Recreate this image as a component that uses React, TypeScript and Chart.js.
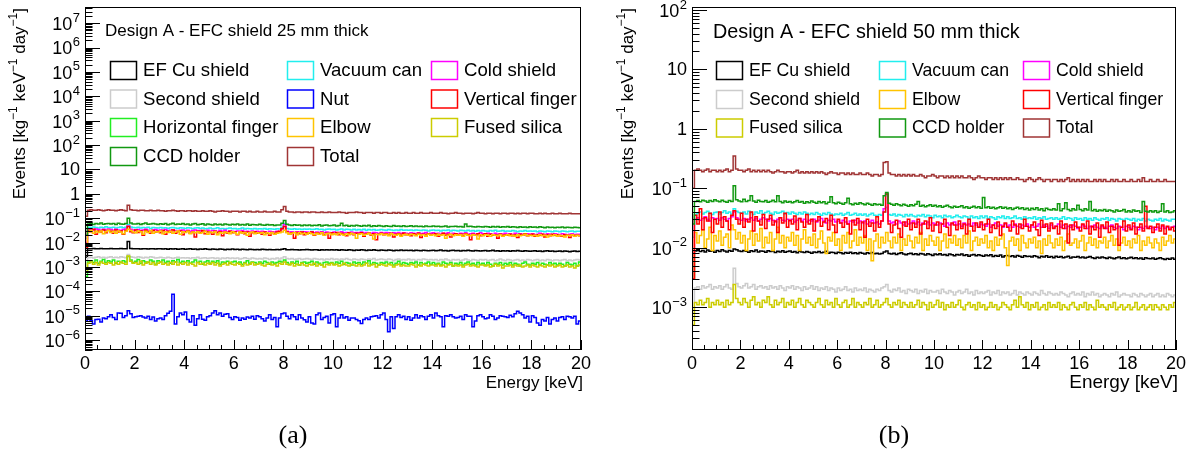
import { useEffect, useRef } from "react";
import { Chart, registerables } from "chart.js";
Chart.register(...registerables);

// ---------- axes / binning ----------
const BIN_W = 0.1; // keV
const X_MIN = 0;
const X_MAX = 20;
const xTickValues = [0, 2, 4, 6, 8, 10, 12, 14, 16, 18, 20];
const xTickLabels = ["0", "2", "4", "6", "8", "10", "12", "14", "16", "18", "20"];
const yDecadesA = [-6, -5, -4, -3, -2, -1, 0, 1, 2, 3, 4, 5, 6, 7];
const yDecadesB = [-3, -2, -1, 0, 1, 2];
const yRangeA = [3.9e-7, 4.6e7];
const yRangeB = [1.9e-4, 112];

// ---------- panel (a): 25 mm, values per 0.1 keV bin ----------
// EF Cu shield, units 1e-4
const efcA = [
25,56,55,57,56,55,57,56,55,56, 57,55,56,55,57,56,55,110,57,56,
55,56,54,56,55,54,56,55,54,55, 56,54,55,53,55,54,56,53,54,55,
53,54,55,53,54,52,54,53,55,53, 52,54,53,52,54,53,51,53,52,54,
52,53,51,53,52,51,53,52,50,52, 51,53,52,50,52,51,50,52,51,53,
55,51,50,52,50,51,49,51,50,52, 50,49,51,50,48,50,49,51,49,50,
49,50,48,50,49,48,50,49,47,49, 48,50,49,47,49,48,50,48,47,49,
48,47,49,48,46,48,47,49,47,48, 47,48,46,48,47,46,48,47,46,47,
48,46,47,49,46,47,45,47,48,46, 47,45,47,46,48,46,45,47,46,45,
46,47,45,46,48,45,46,44,46,45, 46,44,46,45,47,45,44,46,45,44,
45,46,44,45,43,45,46,44,45,43, 44,45,43,45,44,42,44,45,43,44];
// Vacuum can, units 1e-3
const vacA = [
15,42,40,43,41,39,42,40,44,41, 40,42,39,41,43,40,42,55,43,41,
40,42,39,41,40,42,38,41,40,39, 41,39,40,38,40,41,39,38,40,39,
38,40,39,37,39,40,38,39,37,38, 39,37,38,40,37,38,36,38,39,37,
38,36,37,39,36,38,37,36,38,36, 37,36,38,35,37,36,35,37,36,42,
60,38,36,35,37,35,36,34,36,35, 36,34,35,37,34,35,33,35,36,34,
35,33,34,36,33,35,34,33,35,33, 34,33,35,32,34,33,34,32,33,34,
33,32,34,33,31,33,32,34,32,33, 32,33,31,33,32,31,33,32,30,32,
33,31,32,30,32,31,33,30,32,31, 30,32,31,30,32,30,31,29,31,30,
31,30,29,31,30,32,29,30,31,29, 30,29,31,30,28,30,29,31,29,30,
29,30,28,30,29,28,30,29,28,30, 29,28,30,29,28,29,30,28,29,29];
// Cold shield, units 1e-3
const coldA = [
10,33,35,32,36,34,31,35,33,36, 34,32,35,33,31,34,36,48,35,33,
32,34,31,33,35,32,30,33,34,31, 33,31,34,30,32,33,31,29,32,33,
30,32,29,31,33,30,31,28,30,32, 29,31,30,28,31,29,32,28,30,29,
28,30,29,31,28,29,27,30,28,29, 27,29,28,26,29,28,27,29,27,34,
55,29,27,28,26,28,27,26,28,27, 26,28,25,27,26,28,25,27,26,25,
27,25,26,28,25,26,24,27,25,26, 25,27,24,26,25,24,26,25,23,26,
24,26,25,23,25,24,26,23,25,24, 23,25,24,22,25,23,24,26,23,24,
25,23,24,22,24,23,25,22,24,23, 22,24,23,25,22,23,24,22,23,25,
23,22,24,23,21,24,22,23,22,24, 22,23,21,24,22,23,22,21,23,22,
23,21,22,24,22,21,23,22,21,23, 22,21,23,22,21,22,23,21,22,22];
// Second shield, units 1e-4
const secA = [
8,24,25,23,25,26,24,25,23,25, 26,24,25,24,26,25,24,32,26,25,
24,26,25,23,25,24,26,25,23,24, 25,24,23,25,24,22,24,25,23,24,
23,24,22,24,23,25,22,23,24,22, 23,24,22,23,21,23,22,24,22,23,
22,23,21,22,24,22,21,23,22,21, 22,21,23,22,20,22,21,23,21,23,
26,22,21,22,20,21,22,20,21,22, 21,20,22,21,20,21,19,21,20,22,
20,21,19,21,20,22,20,19,21,20, 19,21,20,19,21,20,22,19,20,21,
20,19,21,20,18,20,21,19,20,19, 21,19,20,18,20,19,21,20,19,20,
19,20,18,20,19,21,19,18,20,19, 20,18,19,21,19,18,20,19,18,20,
19,20,18,19,20,18,19,21,19,18, 20,19,18,19,20,18,19,18,20,19,
18,19,20,18,19,18,20,19,18,19, 19,18,19,20,18,19,18,19,20,19];
// Nut, units 1e-7
const nutA = [
60,95,62,45,70,72,55,80,75,90, 110,85,70,130,125,85,100,160,120,85,
90,95,100,88,80,95,70,88,60,75, 80,70,100,125,150,760,45,90,130,110,
140,70,55,100,40,75,110,72,65,90, 100,130,160,110,130,95,115,120,85,70,
90,85,65,80,72,88,80,95,72,100, 90,75,60,80,110,70,85,35,80,120,
130,95,75,110,90,70,110,80,68,55, 90,50,45,110,130,70,85,95,50,110,
120,35,80,110,80,90,65,80,80,70, 62,48,70,80,70,90,95,100,80,110,
130,70,22,90,30,90,110,85,95,70, 90,65,80,110,80,100,90,70,95,110,
80,130,100,90,35,100,95,110,90,80, 85,95,70,110,95,95,35,60,100,110,
90,75,80,110,95,70,80,100,95,90, 85,105,90,120,150,130,110,80,95,55,
100,85,50,40,70,60,85,45,70,80, 60,85,90,70,95,90,80,95,45,60];
// Vertical finger, units 1e-3
const vfA = [
6,32,28,35,22,30,27,33,25,31, 29,24,33,27,30,22,31,45,28,25,
33,26,30,20,32,28,24,31,27,29, 25,31,22,29,27,33,24,28,30,21,
28,30,24,27,17,29,26,31,23,28, 26,22,29,25,28,19,27,24,29,25,
27,21,26,28,23,27,18,25,28,24, 26,22,27,24,20,26,23,27,29,38,
45,27,22,25,15,26,23,27,21,25, 24,27,20,25,23,26,21,24,15,25,
23,26,21,24,22,19,25,23,21,24, 22,25,18,23,24,20,23,13,22,24,
21,23,20,24,17,22,23,20,24,21, 22,19,23,21,24,16,22,21,23,20,
22,23,18,21,24,20,22,17,21,23, 20,22,19,23,21,13,22,20,23,19,
21,23,18,22,20,21,15,22,19,21, 20,22,19,21,16,22,20,23,19,21,
22,18,21,20,22,17,21,19,22,20, 21,19,18,21,20,16,21,19,20,19];
// Horizontal finger, units 1e-4
const hfA = [
4,16,18,15,19,14,17,20,15,18, 16,19,14,17,15,18,16,27,19,15,
17,20,14,18,16,15,19,17,13,18, 16,19,15,17,14,18,16,20,15,17,
15,18,14,16,19,15,17,13,16,18, 14,17,15,18,13,16,15,17,14,16,
17,14,16,13,15,18,14,16,15,13, 16,14,17,15,13,16,14,15,17,16,
19,15,13,16,14,17,12,15,16,14, 15,17,13,16,14,12,15,16,14,15,
13,16,14,17,13,15,14,12,16,14, 15,13,16,14,18,13,15,14,12,15,
14,16,13,15,12,14,17,13,15,14, 13,15,14,16,12,15,13,14,16,13,
15,13,14,12,16,14,13,15,11,14, 13,15,12,14,16,13,14,12,15,13,
14,12,15,13,11,14,13,15,12,14, 13,15,12,14,13,11,14,16,13,12,
14,13,15,12,14,13,12,15,13,14, 12,14,13,11,15,13,12,14,11,16];
// Elbow, units 1e-3
const elbA = [
8,27,31,24,29,26,30,23,28,32, 26,29,24,30,27,23,29,35,31,27,
25,30,28,22,29,26,31,24,28,27, 30,23,28,26,29,24,27,30,22,28,
26,29,23,27,25,28,24,26,29,22, 27,25,28,21,26,24,27,25,23,28,
25,22,27,24,26,20,25,27,23,25, 24,26,21,25,23,26,22,24,25,27,
32,25,22,24,26,21,25,23,24,22, 25,23,21,24,22,25,20,23,24,21,
23,21,24,22,20,23,21,24,22,15, 22,23,20,22,24,21,14,22,21,23,
21,22,19,23,21,20,22,18,21,22, 20,22,21,19,22,20,21,18,22,20,
21,19,22,20,21,15,20,22,19,21, 20,21,18,22,20,19,21,20,14,21,
19,21,20,18,21,20,19,21,18,20, 21,19,20,18,21,19,20,22,19,20,
19,20,18,21,19,20,17,20,19,21, 18,20,19,17,20,19,21,18,20,19];
// Fused silica, units 1e-4
const fsA = [
6,14,16,13,15,12,16,14,13,15, 14,12,15,13,16,14,13,28,17,14,
15,13,17,12,14,16,13,15,12,14, 16,13,14,12,15,13,16,12,14,13,
15,12,14,13,11,15,13,14,12,14, 13,15,12,14,11,13,14,12,15,13,
12,14,13,11,14,12,13,15,12,13, 14,12,11,13,14,12,13,11,14,13,
16,13,12,14,11,13,12,14,12,11, 13,12,14,11,13,12,10,13,12,14,
12,13,11,12,14,12,11,13,12,11, 13,11,12,14,11,12,13,10,12,13,
12,11,13,12,10,12,13,11,12,11, 11,13,12,10,12,11,13,12,11,12,
12,11,13,11,12,10,12,13,11,12, 11,12,10,12,13,11,12,11,10,12,
12,11,12,10,11,13,11,12,9,11, 11,12,10,12,11,12,10,11,12,10,
12,11,10,12,11,10,12,11,12,10, 11,12,10,11,12,10,11,9,11,12];
// CCD holder, units 1e-3
const ccdA = [
20,58,62,55,60,57,63,56,59,61, 57,60,55,62,58,56,60,100,64,58,
57,61,55,59,63,56,58,60,57,55, 59,56,60,54,57,62,55,58,56,60,
55,58,53,57,60,54,56,59,53,57, 55,52,58,54,56,53,57,55,52,56,
54,57,52,55,53,58,51,55,54,52, 56,53,51,55,52,54,50,53,52,62,
80,56,52,50,54,51,53,49,52,50, 53,49,51,50,54,48,51,52,49,50,
52,48,50,62,49,51,47,50,48,51, 49,47,50,48,51,46,49,47,50,48,
46,49,47,45,50,47,48,46,49,45, 47,49,45,48,46,47,44,48,46,45,
48,45,47,44,46,48,43,46,45,47, 44,46,43,58,45,47,44,43,46,44,
43,45,44,42,46,43,45,42,44,43, 45,42,44,43,41,44,42,43,41,44,
42,43,41,44,42,40,43,41,42,40, 42,41,43,40,42,41,40,42,41,40];
// Total, units 1e-2
const totA = [
12,21,22,21,21,22,21,20,21,22, 21,21,20,21,22,21,20,34,22,21,
21,20,21,21,20,20,21,20,20,21, 20,20,19,20,20,21,20,19,20,20,
19,20,20,19,20,19,19,20,19,19, 20,19,18,19,19,20,19,19,18,19,
19,19,18,19,19,18,19,18,18,19, 18,18,19,18,18,18,19,18,18,22,
30,19,18,18,17,18,18,17,18,18, 17,18,18,17,17,18,17,17,18,17,
17,17,18,17,17,16,17,17,17,18, 17,17,16,17,17,17,16,17,17,16,
17,17,16,16,17,16,17,16,16,17, 16,16,17,16,16,17,16,16,16,17,
16,16,16,17,16,16,15,16,16,17, 16,16,15,16,16,16,15,16,17,16,
16,15,16,16,15,16,16,15,16,16, 15,16,16,15,16,15,16,16,15,16,
16,15,15,16,15,16,15,15,16,15, 15,16,15,15,15,16,15,15,15,15];

// ---------- panel (b): 50 mm ----------
// EF Cu shield, units 1e-4
const efcB = [
30,88,92,86,90,85,91,87,89,84, 90,86,92,88,85,90,87,95,92,88,
86,90,87,84,89,86,91,85,88,87, 84,89,86,88,83,87,85,89,84,86,
88,84,86,82,87,85,83,86,84,81, 85,83,86,82,84,87,81,84,83,80,
84,82,79,83,81,84,80,82,79,83, 81,78,82,80,83,79,81,78,80,85,
88,80,78,81,77,80,82,78,76,79, 81,77,79,76,80,78,75,79,77,74,
78,76,79,75,77,74,78,76,73,77, 75,78,74,76,72,75,77,73,76,74,
72,75,73,76,71,74,72,75,70,73, 74,71,73,70,74,72,69,73,71,72,
70,73,71,68,72,70,73,69,71,68, 72,69,71,68,70,72,67,70,69,71,
68,70,67,69,71,68,66,69,67,70, 68,66,69,67,65,68,70,66,68,65,
67,69,66,68,65,67,64,68,66,65, 67,64,66,68,65,63,66,64,67,64];
// Vacuum can, units 1e-3
const vacB = [
15,36,38,40,37,39,41,38,36,39, 40,37,39,42,38,40,37,45,41,39,
38,40,37,41,39,36,40,38,42,37, 39,41,38,36,40,38,39,41,37,39,
37,40,38,36,39,37,40,38,36,38, 36,39,37,35,38,36,39,37,35,37,
36,38,35,37,39,35,36,38,35,37, 35,37,34,36,38,35,34,36,35,40,
48,36,35,37,34,36,35,33,36,34, 36,34,33,35,34,36,33,35,34,32,
35,33,34,32,35,33,34,32,33,35, 33,32,34,33,31,34,32,33,31,34,
32,34,31,33,32,30,33,32,34,31, 33,31,32,34,31,32,30,33,31,32,
31,33,30,32,31,33,30,31,32,30, 32,30,31,33,30,32,31,29,32,30,
31,29,32,30,31,29,32,30,29,31, 30,32,29,31,30,28,31,30,29,31,
30,29,31,28,30,29,31,28,30,29, 28,30,29,31,28,30,29,28,30,30];
// Cold shield, units 1e-3
const coldB = [
8,30,32,29,31,33,30,28,32,30, 31,29,32,30,28,31,33,40,32,30,
29,31,28,30,32,29,31,28,30,32, 30,28,31,29,27,30,32,29,28,30,
28,30,27,29,31,28,30,27,29,28, 30,27,29,31,28,26,29,28,30,27,
28,26,29,27,25,28,27,29,26,28, 26,28,25,27,29,26,27,25,28,45,
80,28,26,27,25,28,26,24,27,25, 26,28,25,27,24,26,25,27,24,26,
25,24,26,25,23,26,24,25,27,24, 25,23,26,24,25,23,26,24,22,25,
24,23,25,22,24,26,23,24,22,25, 23,24,22,25,23,22,24,23,25,22,
24,22,23,25,22,24,23,21,24,22, 23,25,22,24,21,23,22,24,23,21,
22,24,23,21,23,22,24,22,21,23, 22,21,23,24,22,21,23,22,20,23,
22,21,23,22,20,22,21,23,22,21, 22,20,22,21,23,21,22,21,22,23];
// Second shield, units 1e-4
const secB = [
8,21,22,20,23,21,22,24,20,22, 21,23,20,22,24,21,20,45,25,22,
21,23,25,21,22,24,20,22,23,21, 22,20,23,21,22,20,23,21,19,22,
21,23,20,22,21,19,22,20,21,23, 20,22,19,21,20,22,19,21,20,18,
21,19,20,22,19,20,18,21,19,20, 19,21,18,20,19,18,20,19,21,22,
24,19,18,20,19,21,18,19,17,20, 19,18,20,17,19,18,20,17,19,18,
18,19,17,20,18,17,19,18,16,18, 19,17,18,20,17,18,16,19,17,18,
17,18,19,16,18,17,19,16,18,17, 18,16,17,19,16,18,17,16,18,17,
16,18,17,16,19,17,16,18,17,16, 17,16,18,17,16,15,17,18,16,17,
16,18,15,17,16,18,16,17,15,16, 17,16,15,17,16,18,15,16,17,16,
16,15,17,16,15,17,16,15,16,17, 15,16,17,15,16,15,17,16,15,16];
// Elbow, units 1e-3
const elbB = [
3,18,12,16,20,10,14,22,9,16, 13,19,11,15,17,10,24,20,14,18,
12,16,9,14,19,11,17,13,21,10, 15,12,18,9,14,22,12,16,10,15,
13,18,11,16,9,14,20,12,15,11, 17,10,14,19,12,8,15,13,18,11,
14,9,16,12,18,10,13,20,11,15, 12,16,9,14,6,13,17,10,15,12,
18,13,10,15,12,17,9,14,11,16, 13,10,15,12,18,9,14,11,16,13,
11,15,9,13,17,10,14,12,16,11, 14,10,16,12,19,9,13,15,11,14,
12,16,10,13,9,15,11,14,17,10, 5,13,15,11,14,9,16,12,10,14,
12,15,10,13,8,14,11,16,12,10, 14,11,15,9,13,17,11,12,14,10,
13,16,9,12,15,11,14,10,13,12, 15,10,13,16,11,14,9,12,15,11,
13,10,14,12,16,9,13,11,15,12, 10,14,12,9,15,11,13,16,12,14];
// Vertical finger, units 1e-3
const vfB = [
3,35,25,45,20,32,28,38,18,30, 25,40,22,33,28,20,35,42,30,25,
38,22,30,27,40,19,33,28,24,36, 21,30,35,24,28,18,32,26,38,22,
29,25,34,20,31,27,22,36,25,30, 19,28,33,23,27,31,20,35,24,18,
30,26,22,32,25,17,29,24,31,20, 27,15,30,23,26,19,33,22,28,40,
80,25,18,24,29,21,15,27,23,30, 20,26,22,30,17,25,28,21,32,19,
24,27,18,25,30,22,16,26,24,20, 28,21,25,17,30,23,19,26,22,27,
20,25,30,18,24,21,27,16,23,26, 22,19,28,24,17,25,21,30,23,19,
24,27,20,16,29,22,25,19,26,21, 23,17,28,21,25,12,24,20,27,22,
19,25,21,28,17,23,20,26,15,24, 21,27,18,23,20,25,11,22,28,19,
24,20,26,17,22,25,19,50,21,23, 18,22,25,19,24,17,23,20,22,19];
// Fused silica, units 1e-4
const fsB = [
5,12,11,13,11,12,14,10,12,11, 13,11,12,10,13,11,12,24,14,12,
11,14,12,10,13,15,11,12,10,13, 12,15,11,10,13,11,12,14,10,12,
11,13,10,12,14,11,10,13,12,11, 10,12,14,11,10,13,11,12,10,14,
11,10,12,13,10,11,14,10,12,11, 10,12,11,14,10,11,13,10,11,12,
14,11,10,12,11,13,10,12,11,10, 12,10,11,13,10,12,11,9,12,10,
11,13,10,12,9,11,10,12,10,11, 13,10,9,11,12,10,11,9,12,10,
11,9,10,12,10,11,9,10,12,11, 10,9,11,13,10,15,11,10,12,9,
11,10,12,9,10,11,9,12,10,11, 10,12,9,11,10,9,11,12,10,9,
11,10,12,9,11,10,9,13,10,11, 10,9,11,10,12,9,10,11,9,10,
11,9,10,12,9,10,11,9,10,11, 9,11,10,9,11,10,9,11,10,12];
// CCD holder, units 1e-3
const ccdB = [
25,60,62,59,63,61,58,62,60,64, 61,59,63,60,58,62,60,110,64,61,
59,65,60,62,75,61,58,63,60,59, 62,58,60,63,59,75,60,57,61,58,
60,57,59,62,58,60,56,59,57,61, 58,56,60,57,59,55,58,72,57,55,
58,56,54,57,68,55,53,56,54,57, 55,53,56,54,52,55,53,54,52,75,
85,56,54,52,55,53,51,54,52,50, 53,51,54,60,50,52,49,51,53,50,
52,49,51,48,50,52,49,47,50,48, 49,51,47,49,46,48,50,47,49,46,
70,47,49,46,48,45,47,49,46,48, 45,47,44,46,48,45,47,44,46,43,
46,44,47,43,45,42,46,44,43,45, 43,55,42,45,57,44,42,45,43,52,
44,42,45,43,60,42,44,41,43,42, 44,41,43,42,40,43,41,42,44,40,
42,40,43,41,42,39,60,41,40,42, 40,42,39,41,55,40,42,39,40,42];
// Total, units 1e-2
const totB = [
10,20,21,20,19,20,21,19,20,20, 19,20,19,20,21,19,20,35,21,20,
20,19,20,21,19,20,19,20,19,20, 19,20,19,18,19,20,19,19,18,19,
19,18,19,20,18,19,18,19,18,19, 18,19,18,19,18,17,18,19,18,18,
17,18,18,17,18,17,18,17,17,18, 17,17,18,17,16,17,17,16,17,27,
28,18,17,17,16,17,16,17,16,17, 16,17,16,16,17,16,15,16,16,17,
16,15,16,16,15,16,15,16,15,16, 15,16,15,15,16,15,14,15,16,15,
15,14,15,15,14,15,14,15,14,15, 14,15,14,14,15,14,14,13,14,15,
14,13,14,15,14,13,14,14,13,14, 14,13,14,13,14,15,13,14,13,14,
13,14,13,14,13,13,14,13,14,13, 14,13,13,14,13,14,13,13,14,13,
13,14,13,13,14,13,15,13,13,14, 13,13,14,13,13,14,13,13,13,13];

// ---------- colours ----------
const COL = {
  efc: "#000000",
  vac: "#22eeee",
  cold: "#ff00ff",
  sec: "#cccccc",
  nut: "#0000ff",
  vf: "#ff0000",
  hf: "#22ee22",
  elb: "#ffc400",
  fs: "#cccc00",
  ccd: "#119911",
  tot: "#a03535",
};

type Series = { label: string; color: string; values: number[]; unit: number };

const seriesA: Series[] = [
  { label: "EF Cu shield", color: COL.efc, values: efcA, unit: 1e-4 },
  { label: "Vacuum can", color: COL.vac, values: vacA, unit: 1e-3 },
  { label: "Cold shield", color: COL.cold, values: coldA, unit: 1e-3 },
  { label: "Second shield", color: COL.sec, values: secA, unit: 1e-4 },
  { label: "Nut", color: COL.nut, values: nutA, unit: 1e-7 },
  { label: "Vertical finger", color: COL.vf, values: vfA, unit: 1e-3 },
  { label: "Horizontal finger", color: COL.hf, values: hfA, unit: 1e-4 },
  { label: "Elbow", color: COL.elb, values: elbA, unit: 1e-3 },
  { label: "Fused silica", color: COL.fs, values: fsA, unit: 1e-4 },
  { label: "CCD holder", color: COL.ccd, values: ccdA, unit: 1e-3 },
  { label: "Total", color: COL.tot, values: totA, unit: 1e-2 },
];

const seriesB: Series[] = [
  { label: "EF Cu shield", color: COL.efc, values: efcB, unit: 1e-4 },
  { label: "Vacuum can", color: COL.vac, values: vacB, unit: 1e-3 },
  { label: "Cold shield", color: COL.cold, values: coldB, unit: 1e-3 },
  { label: "Second shield", color: COL.sec, values: secB, unit: 1e-4 },
  { label: "Elbow", color: COL.elb, values: elbB, unit: 1e-3 },
  { label: "Vertical finger", color: COL.vf, values: vfB, unit: 1e-3 },
  { label: "Fused silica", color: COL.fs, values: fsB, unit: 1e-4 },
  { label: "CCD holder", color: COL.ccd, values: ccdB, unit: 1e-3 },
  { label: "Total", color: COL.tot, values: totB, unit: 1e-2 },
];

const FONT = '"Liberation Sans", Arial, Helvetica, sans-serif';
const SERIF = '"Liberation Serif", "Times New Roman", serif';

function histPoints(values: number[], unit: number) {
  const pts = values.map((v, i) => ({ x: X_MIN + i * BIN_W, y: v * unit }));
  pts.push({ x: X_MAX, y: values[values.length - 1] * unit });
  return pts;
}

type PanelCfg = {
  left: number;
  padding: { left: number; right: number; top: number; bottom: number };
  series: Series[];
  yRange: number[];
  yDecades: number[];
  title: string;
  titlePos: [number, number];
  titleSize: number;
  legendSize: number;
  xTitleSize: number;
  yTitleX: number;
  legendCols: number[];
  legendRows: number[];
  caption: string;
  captionX: number;
};

const TICK_FONT = 18;
const EXP_FONT = 13;

function drawPow(ctx: CanvasRenderingContext2D, k: number, xRight: number, y: number) {
  ctx.textBaseline = "middle";
  if (k === 0 || k === 1) {
    ctx.font = `${TICK_FONT}px ${FONT}`;
    ctx.textAlign = "right";
    ctx.fillText(k === 0 ? "1" : "10", xRight, y + 1);
    return;
  }
  const exp = k < 0 ? "\u2212" + Math.abs(k) : String(k);
  ctx.font = `${EXP_FONT}px ${FONT}`;
  const we = ctx.measureText(exp).width;
  ctx.font = `${TICK_FONT}px ${FONT}`;
  const wb = ctx.measureText("10").width;
  ctx.textAlign = "left";
  const x0 = xRight - we - wb - 0.5;
  ctx.fillText("10", x0, y + 2);
  ctx.font = `${EXP_FONT}px ${FONT}`;
  ctx.fillText(exp, x0 + wb + 0.5, y - 5);
}

function drawYTitle(ctx: CanvasRenderingContext2D, cx: number, topY: number) {
  const parts: [string, boolean][] = [
    ["Events [kg", false],
    ["\u22121", true],
    [" keV", false],
    ["\u22121", true],
    [" day", false],
    ["\u22121", true],
    ["]", false],
  ];
  const widths = parts.map(([t, sup]) => {
    ctx.font = sup ? `12px ${FONT}` : `17px ${FONT}`;
    return ctx.measureText(t).width;
  });
  const total = widths.reduce((a, b) => a + b, 0);
  ctx.save();
  ctx.translate(cx, topY);
  ctx.rotate(-Math.PI / 2);
  ctx.textAlign = "left";
  ctx.textBaseline = "middle";
  let x = -total;
  parts.forEach(([t, sup], i) => {
    ctx.font = sup ? `12px ${FONT}` : `17px ${FONT}`;
    ctx.fillText(t, x, sup ? -6 : 0);
    x += widths[i];
  });
  ctx.restore();
}

function makeDecor(cfg: PanelCfg) {
  return {
    id: "rootDecor",
    afterDraw(chart: any) {
      const ctx: CanvasRenderingContext2D = chart.ctx;
      const a = chart.chartArea;
      const xs = chart.scales.x;
      const ys = chart.scales.y;
      ctx.save();
      ctx.fillStyle = "#000";
      ctx.strokeStyle = "#000";
      ctx.lineWidth = 1;

      // frame
      ctx.strokeRect(a.left + 0.5, a.top + 0.5, a.right - a.left - 1, a.bottom - a.top - 1);

      // y ticks (log)
      ctx.beginPath();
      const [ymin, ymax] = cfg.yRange;
      for (let d = Math.floor(Math.log10(ymin)); d <= Math.ceil(Math.log10(ymax)); d++) {
        for (let m = 1; m <= 9; m++) {
          const v = m * Math.pow(10, d);
          if (v < ymin || v > ymax) continue;
          const y = Math.round(ys.getPixelForValue(v)) + 0.5;
          const len = m === 1 ? 15 : 7.5;
          ctx.moveTo(a.left, y);
          ctx.lineTo(a.left + len, y);
        }
      }
      // x ticks
      for (let v = X_MIN; v <= X_MAX + 1e-9; v += 0.5) {
        const x = Math.round(xs.getPixelForValue(v)) + 0.5;
        const major = Math.abs(v / 2 - Math.round(v / 2)) < 1e-6;
        ctx.moveTo(x, a.bottom);
        ctx.lineTo(x, a.bottom - (major ? 10 : 5));
      }
      ctx.stroke();

      // x tick labels
      ctx.font = `${TICK_FONT}px ${FONT}`;
      ctx.textAlign = "center";
      ctx.textBaseline = "middle";
      xTickValues.forEach((v, i) => {
        ctx.fillText(xTickLabels[i], xs.getPixelForValue(v), a.bottom + 14);
      });
      // x title
      ctx.font = `${cfg.xTitleSize}px ${FONT}`;
      ctx.textAlign = "right";
      ctx.fillText("Energy [keV]", a.right + 2, a.bottom + 33);

      // y tick labels
      cfg.yDecades.forEach((k) => {
        drawPow(ctx, k, a.left - 5, ys.getPixelForValue(Math.pow(10, k)));
      });
      // y title
      drawYTitle(ctx, cfg.yTitleX, a.top + 1);

      // panel title
      ctx.font = `${cfg.titleSize}px ${FONT}`;
      ctx.textAlign = "left";
      ctx.textBaseline = "middle";
      ctx.fillText(cfg.title, cfg.titlePos[0], cfg.titlePos[1]);

      // legend (3 columns, row-wise)
      const ds = chart.data.datasets;
      ds.forEach((d: any, i: number) => {
        const col = i % 3;
        const row = Math.floor(i / 3);
        const bx = cfg.legendCols[col];
        const by = cfg.legendRows[row];
        ctx.strokeStyle = d.borderColor;
        ctx.lineWidth = 1.5;
        ctx.strokeRect(bx + 0.5, by - 9 + 0.5, 26, 18);
        ctx.fillStyle = "#000";
        ctx.font = `${cfg.legendSize}px ${FONT}`;
        ctx.fillText(d.label, bx + 33, by + 1);
      });

      // caption
      ctx.font = `26px ${SERIF}`;
      ctx.textAlign = "center";
      ctx.fillText(cfg.caption, cfg.captionX, 436);
      ctx.restore();
    },
  };
}

function Panel({ cfg }: { cfg: PanelCfg }) {
  const ref = useRef<HTMLCanvasElement | null>(null);
  useEffect(() => {
    if (!ref.current) return;
    const n = cfg.series.length;
    const chart = new Chart(ref.current, {
      type: "line",
      data: {
        datasets: cfg.series.map((s, i) => ({
          label: s.label,
          data: histPoints(s.values, s.unit),
          borderColor: s.color,
          backgroundColor: s.color,
          borderWidth: 1.5,
          pointRadius: 0,
          fill: false,
          stepped: true,
          tension: 0,
          order: n - i,
        })),
      },
      options: {
        animation: false,
        responsive: false,
        events: [],
        layout: { padding: cfg.padding },
        scales: {
          x: { type: "linear", min: X_MIN, max: X_MAX, display: false },
          y: { type: "logarithmic", min: cfg.yRange[0], max: cfg.yRange[1], display: false },
        },
        plugins: { legend: { display: false }, tooltip: { enabled: false } },
      },
      plugins: [makeDecor(cfg)],
    } as any);
    return () => chart.destroy();
  }, [cfg]);
  return (
    <canvas
      ref={ref}
      width={600}
      height={453}
      style={{ position: "absolute", left: cfg.left, top: 0, width: 600, height: 453 }}
    />
  );
}

const panelA: PanelCfg = {
  left: 0,
  padding: { left: 85, right: 19, top: 7, bottom: 103 },
  series: seriesA,
  yRange: yRangeA,
  yDecades: yDecadesA,
  title: "Design A - EFC shield 25 mm thick",
  titlePos: [105, 31],
  titleSize: 17,
  legendSize: 18.6,
  xTitleSize: 17,
  yTitleX: 20,
  legendCols: [110, 287, 431],
  legendRows: [70, 98.5, 127, 156],
  caption: "(a)",
  captionX: 293,
};

const panelB: PanelCfg = {
  left: 600,
  padding: { left: 92, right: 24, top: 7, bottom: 103 },
  series: seriesB,
  yRange: yRangeB,
  yDecades: yDecadesB,
  title: "Design A - EFC shield 50 mm thick",
  titlePos: [113, 33],
  titleSize: 19.8,
  legendSize: 17.7,
  xTitleSize: 19,
  yTitleX: 28,
  legendCols: [116, 279, 423],
  legendRows: [70, 99, 127.5],
  caption: "(b)",
  captionX: 294,
};

export default function App() {
  return (
    <div style={{ position: "fixed", left: 0, top: 0, width: 1200, height: 453, background: "#fff", overflow: "hidden" }}>
      <Panel cfg={panelA} />
      <Panel cfg={panelB} />
    </div>
  );
}
